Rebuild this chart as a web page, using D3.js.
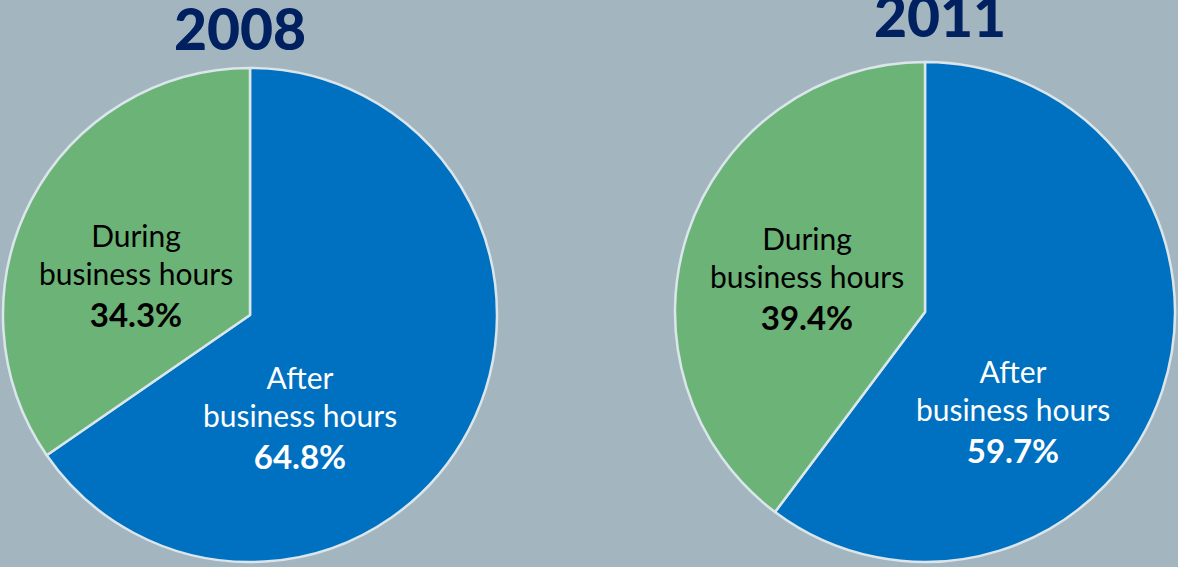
<!DOCTYPE html>
<html lang="en">
<head>
  <meta charset="UTF-8">
  <title>Business hours pies</title>
  <style>
    html, body { margin: 0; padding: 0; background: #a3b6c0; }
    svg { display: block; }
  </style>
</head>
<body>
  <script src="https://d3js.org/d3.v7.min.js"></script>
  <script>
    // data
    let years = ["2008", "2011"];
    let categories = ["After business hours", "During business hours"];
    let values2008 = [64.8, 34.3];
    let values2011 = [59.7, 39.4];

    let width = 1178;
    let height = 567;

    // where each pie sits, and where its labels go (offset from pie centre)
    let layout = [
      { cx: 250, cy: 315, r: 247, titleX: 240, titleY: 50,
        labels: [[50, 74], [-114, -68]] },
      { cx: 925, cy: 312, r: 250, titleX: 940, titleY: 37,
        labels: [[88, 71], [-118, -62]] }
    ];

    let colors = ["#0070c0", "#6cb377"];
    let textColors = ["#ffffff", "#000000"];
    let font = "Lato, 'Open Sans', sans-serif";

    let svg = d3.select("body")
      .append("svg")
      .attr("width", width)
      .attr("height", height);

    let pie = d3.pie().sort(null);

    [values2008, values2011].forEach(function(values, i) {
      let L = layout[i];
      let arc = d3.arc().innerRadius(0).outerRadius(L.r);

      let g = svg.append("g")
        .attr("transform", "translate(" + L.cx + "," + L.cy + ")");

      g.selectAll("path")
        .data(pie(values))
        .join("path")
        .attr("d", arc)
        .attr("fill", (d, j) => colors[j])
        .attr("stroke", "#dbe6ec")
        .attr("stroke-width", 2.5)
        .attr("stroke-linejoin", "round");

      // labels: two lines of category, then bold value
      values.forEach(function(v, j) {
        let words = categories[j].split(" ");
        let lines = [words[0], words.slice(1).join(" ")];
        let t = g.append("text")
          .attr("text-anchor", "middle")
          .attr("fill", textColors[j])
          .style("font-family", font);
        t.append("tspan")
          .attr("x", L.labels[j][0])
          .attr("y", L.labels[j][1])
          .style("font-size", "30px")
          .text(lines[0]);
        t.append("tspan")
          .attr("x", L.labels[j][0])
          .attr("dy", 38)
          .style("font-size", "30px")
          .text(lines[1]);
        t.append("tspan")
          .attr("x", L.labels[j][0])
          .attr("dy", 42)
          .style("font-size", "33px")
          .style("font-weight", "bold")
          .text(v.toFixed(1) + "%");
      });

      svg.append("text")
        .attr("x", L.titleX)
        .attr("y", L.titleY)
        .attr("text-anchor", "middle")
        .attr("fill", "#002060")
        .style("font-family", font)
        .style("font-weight", "900")
        .style("font-size", "57px")
        .text(years[i]);
    });
  </script>
</body>
</html>
